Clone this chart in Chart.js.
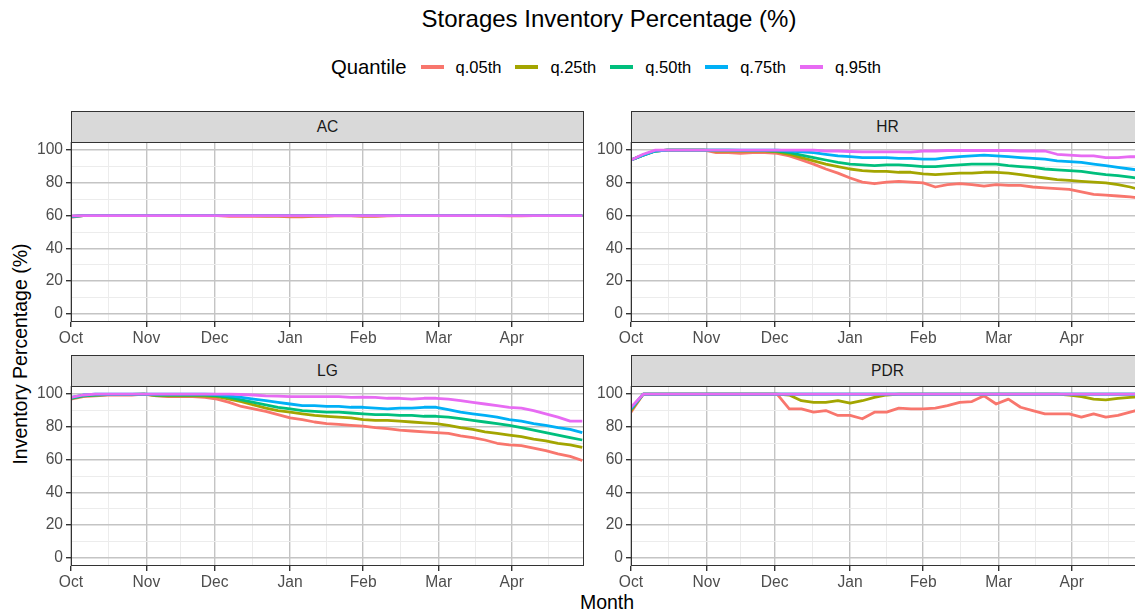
<!DOCTYPE html>
<html>
<head>
<meta charset="utf-8">
<script src="https://cdn.jsdelivr.net/npm/chart.js@4.4.1/dist/chart.umd.min.js"></script>
<style>
  html, body { margin: 0; padding: 0; background: #fff; }
  body { width: 1135px; height: 615px; overflow: hidden; position: relative;
         font-family: "Liberation Sans", Arial, sans-serif; }
  .abs { position: absolute; }
  canvas { position: absolute; }
  .strip { position: absolute; box-sizing: border-box; border: 1px solid #333;
           background: #d9d9d9; color: #1a1a1a; font-size: 15.6px;
           text-align: center; line-height: 30px; height: 32px; width: 513px; }
  #title { left: 0; width: 1218px; top: 5px; text-align: center; font-size: 24px; color: #000; }
  #legend { left: 331px; top: 55px; display: flex; align-items: center; height: 24px; }
  #legend .lt { font-size: 20.3px; color: #000; }
  #legend .key { width: 23px; height: 3.5px; margin-left: 14px; }
  #legend .lab { font-size: 16.5px; color: #000; margin-left: 12px; }
  #xtitle { left: 0; width: 1214px; top: 591px; text-align: center; font-size: 19.5px; }
  #ytitle { left: 20px; top: 354px; font-size: 19.5px; white-space: nowrap;
            transform: translate(-50%, -50%) rotate(-90deg); }
</style>
</head>
<body>
<div id="title" class="abs">Storages Inventory Percentage (%)</div>
<div id="legend" class="abs"></div>
<div id="xtitle" class="abs">Month</div>
<div id="ytitle" class="abs">Inventory Percentage (%)</div>

<div class="strip" style="left:71px; top:111px;">AC</div>
<div class="strip" style="left:631px; top:111px;">HR</div>
<div class="strip" style="left:71px; top:355px;">LG</div>
<div class="strip" style="left:631px; top:355px;">PDR</div>

<canvas id="ac" width="586" height="213" style="left:0px; top:141px;"></canvas>
<canvas id="hr" width="586" height="213" style="left:560px; top:141px;"></canvas>
<canvas id="lg" width="586" height="213" style="left:0px; top:385px;"></canvas>
<canvas id="pdr" width="586" height="213" style="left:560px; top:385px;"></canvas>

<script>
// day offset from the start of the season (every 5 days)
var days = [0, 5, 10, 15, 20, 25, 30, 35, 40, 45,
  50, 55, 60, 65, 70, 75, 80, 85, 90, 95,
  100, 105, 110, 115, 120, 125, 130, 135, 140, 145,
  150, 155, 160, 165, 170, 175, 180, 185, 190, 195,
  200, 205, 210];

var monthLabels = ['Oct', 'Nov', 'Dec', 'Jan', 'Feb', 'Mar', 'Apr'];
var monthDays = [0, 31, 59, 90, 120, 151, 181];
var minorDays = [15.5, 45, 74.5, 105, 135.5, 166, 196];

var quantiles = ['q.05th', 'q.25th', 'q.50th', 'q.75th', 'q.95th'];
var colors = ['#F8766D', '#A3A500', '#00BF7D', '#00B0F6', '#E76BF3'];

// AC
var acQ05 = [59, 60, 60, 60, 60, 60, 60, 60, 60, 60,
  60, 60, 60, 59.5, 59.5, 59.5, 59.5, 59.5, 59.3, 59.3,
  59.5, 59.5, 60, 59.8, 59.5, 59.5, 59.8, 60, 60, 60,
  60, 60, 60, 60, 60, 60, 59.8, 59.8, 60, 60,
  60, 60, 60];
var acQ25 = [59.5, 60, 60, 60, 60, 60, 60, 60, 60, 60,
  60, 60, 60, 60, 60, 60, 59.8, 59.8, 59.8, 59.8,
  59.8, 60, 60, 60, 59.8, 59.8, 60, 60, 60, 60,
  60, 60, 60, 60, 60, 60, 60, 60, 60, 60,
  60, 60, 60];
var acQ50 = [59.5, 60, 60, 60, 60, 60, 60, 60, 60, 60,
  60, 60, 60, 60, 60, 60, 60, 60, 60, 60,
  60, 60, 60, 60, 60, 60, 60, 60, 60, 60,
  60, 60, 60, 60, 60, 60, 60, 60, 60, 60,
  60, 60, 60];
var acQ75 = [59.6, 60, 60, 60, 60, 60, 60, 60, 60, 60,
  60, 60, 60, 60, 60, 60, 60, 60, 60, 60,
  60, 60, 60, 60, 60, 60, 60, 60, 60, 60,
  60, 60, 60, 60, 60, 60, 60, 60, 60, 60,
  60, 60, 60];
var acQ95 = [59.8, 60, 60, 60, 60, 60, 60, 60, 60, 60,
  60, 60, 60, 60, 60, 60, 60, 60, 60, 60,
  60, 60, 60, 60, 60, 60, 60, 60, 60, 60,
  60, 60, 60, 60, 60, 60, 60, 60, 60, 60,
  60, 60, 60];

// HR
var hrQ05 = [94, 97, 99.5, 100, 100, 100, 100, 98.5, 98.5, 98,
  98.5, 98.5, 98, 96.5, 94, 91.5, 88.5, 86, 83, 80.5,
  79.5, 80.5, 81, 80.5, 80, 77.5, 79, 79.5, 79, 78,
  79, 78.5, 78.5, 77.5, 77, 76.5, 76, 74.5, 73, 72.5,
  72, 71.5, 70.5];
var hrQ25 = [94, 97, 99.5, 100, 100, 100, 100, 99.5, 99.5, 99.5,
  99.5, 99.5, 99, 97.5, 95.5, 93.5, 91.5, 90, 88.5, 87.5,
  87, 87, 86.5, 86.5, 85.5, 85, 85.5, 86, 86, 86.5,
  86.5, 86, 85, 84, 83, 82, 81.5, 81, 80.5, 80,
  79, 77.5, 75.5];
var hrQ50 = [94, 97, 99.5, 100, 100, 100, 100, 100, 100, 99.8,
  99.8, 99.8, 99.5, 98.5, 97, 95.5, 94, 92.5, 91.5, 91,
  90.5, 91, 91, 90.5, 90, 90, 90.5, 91, 91.5, 91.5,
  91.5, 90.5, 90, 89.5, 88.5, 88, 87.5, 87, 86, 85,
  84.5, 83.5, 82.5];
var hrQ75 = [94, 97, 99.5, 100, 100, 100, 100, 100, 100, 100,
  100, 100, 100, 99.5, 99, 98.5, 97.5, 96.5, 96, 95.5,
  95.5, 95.5, 95, 95, 94.5, 94.5, 95.5, 96, 96.5, 97,
  96.5, 96, 95.5, 95, 94.5, 93.5, 93, 92.5, 91.5, 90.5,
  89.5, 88.5, 87.5];
var hrQ95 = [94, 97.5, 100, 100, 100, 100, 100, 100, 100, 100,
  100, 100, 100, 100, 100, 100, 99.5, 99.5, 99.2, 99,
  99, 99, 99, 98.8, 99.5, 99.5, 99.8, 99.8, 99.8, 99.8,
  99.8, 99.8, 99.5, 99.5, 99.5, 97.5, 97, 96.5, 96.5, 95.5,
  95.5, 96, 96];

// LG
var lgQ05 = [97, 98.5, 99, 99.5, 99.5, 99.5, 100, 99, 98.5, 98.5,
  98.5, 98, 97, 95, 92.5, 91, 89.5, 87.5, 85.5, 84.5,
  83, 82, 81.5, 81, 80.5, 79.5, 79, 78, 77.5, 77,
  76.5, 76, 74.5, 73.5, 72, 70, 69, 68.5, 67, 65.5,
  63.5, 62, 59.5];
var lgQ25 = [97.5, 99, 99.5, 99.8, 99.8, 99.8, 100, 99.2, 99, 99,
  99, 98.8, 98.5, 97, 95.5, 93.5, 91.5, 90, 89, 88,
  87, 86.5, 86, 85.5, 84.5, 84, 84, 83.5, 83, 82.5,
  82, 81, 79.5, 78.5, 77, 76, 75, 74, 72.5, 71.5,
  70, 69, 67.5];
var lgQ50 = [97.5, 99, 99.5, 99.8, 99.8, 99.8, 100, 99.5, 99.5, 99.5,
  99.5, 99.5, 99, 98, 96.5, 95, 93.5, 92, 91, 90,
  89.5, 89, 89, 88.5, 88, 87.5, 87.5, 87, 87, 86.5,
  86.5, 86, 85, 84, 83, 82, 81, 79.5, 78, 76.5,
  75, 73.5, 72];
var lgQ75 = [98, 99.5, 100, 100, 100, 100, 100, 100, 100, 100,
  100, 100, 99.8, 99, 98, 97, 96, 95, 94, 93,
  93, 92.5, 92.5, 92, 92, 91.5, 91, 91.5, 91.5, 92,
  92, 90.5, 89, 88, 87, 86, 84.5, 83.5, 82, 81,
  79.5, 78.5, 76.5];
var lgQ95 = [98, 99.5, 100, 100, 100, 100, 100, 100, 100, 100,
  100, 100, 100, 100, 99.8, 99.5, 99, 98.8, 98.5, 98.5,
  98.5, 98.5, 98.5, 98, 98.2, 98, 97.5, 97.5, 97, 97.5,
  97.5, 97, 96, 95, 94, 93, 92, 91.5, 90, 88,
  86, 83.5, 83.5];

// PDR
var pdrQ05 = [89, 100, 100, 100, 100, 100, 100, 100, 100, 100,
  100, 100, 100, 91, 91, 89, 90, 87, 87, 85,
  89, 89, 91.5, 91, 91, 91.5, 93, 95, 95.5, 99,
  94, 97, 92, 90, 88, 88, 88, 86, 88, 86,
  87, 89, 91];
var pdrQ25 = [90, 100, 100, 100, 100, 100, 100, 100, 100, 100,
  100, 100, 100, 99.5, 96, 95, 95, 96, 94.5, 96,
  98, 99.5, 100, 100, 100, 100, 100, 100, 100, 100,
  100, 100, 100, 100, 100, 100, 99.5, 98.5, 97, 96.5,
  97.5, 98, 98.5];
var pdrQ50 = [91, 100, 100, 100, 100, 100, 100, 100, 100, 100,
  100, 100, 100, 100, 100, 100, 100, 100, 100, 100,
  100, 100, 100, 100, 100, 100, 100, 100, 100, 100,
  100, 100, 100, 100, 100, 100, 100, 100, 100, 100,
  100, 100, 100];
var pdrQ75 = [91, 100, 100, 100, 100, 100, 100, 100, 100, 100,
  100, 100, 100, 100, 100, 100, 100, 100, 100, 100,
  100, 100, 100, 100, 100, 100, 100, 100, 100, 100,
  100, 100, 100, 100, 100, 100, 100, 100, 100, 100,
  100, 100, 100];
var pdrQ95 = [92, 100, 100, 100, 100, 100, 100, 100, 100, 100,
  100, 100, 100, 100, 100, 100, 100, 100, 100, 100,
  100, 100, 100, 100, 100, 100, 100, 100, 100, 100,
  100, 100, 100, 100, 100, 100, 100, 100, 100, 100,
  100, 100, 100];

// legend (html)
var leg = document.getElementById('legend');
leg.innerHTML = '<span class="lt">Quantile</span>';
quantiles.forEach(function (q, i) {
  leg.innerHTML += '<span class="key" style="background:' + colors[i] + '"></span>' +
    '<span class="lab">' + q + '</span>';
});

var panelBorder = {
  id: 'panelBorder',
  afterDatasetsDraw: function (chart) {
    var a = chart.chartArea, ctx = chart.ctx;
    ctx.save();
    ctx.strokeStyle = '#333333';
    ctx.lineWidth = 1;
    ctx.strokeRect(a.left + 0.5, a.top + 0.5, a.right - a.left - 1, a.bottom - a.top - 1);
    ctx.restore();
  }
};

function isMonth(v) { return monthDays.indexOf(v) >= 0; }

function makePanel(id, series) {
  new Chart(document.getElementById(id), {
    type: 'line',
    data: {
      datasets: series.map(function (vals, i) {
        return {
          label: quantiles[i],
          data: days.map(function (d, j) { return { x: d, y: vals[j] }; }),
          borderColor: colors[i],
          borderWidth: 2.8,
          borderJoinStyle: 'round',
          pointRadius: 0,
          tension: 0,
          fill: false,
          order: 4 - i
        };
      })
    },
    options: {
      responsive: false,
      animation: false,
      devicePixelRatio: 1,
      layout: { autoPadding: false, padding: { top: 1, right: 2, left: 0, bottom: 0 } },
      plugins: { legend: { display: false }, tooltip: { enabled: false } },
      scales: {
        x: {
          type: 'linear', min: 0, max: 210.7,
          afterBuildTicks: function (scale) {
            scale.ticks = monthDays.concat(minorDays).sort(function (a, b) { return a - b; })
              .map(function (v) { return { value: v }; });
          },
          afterFit: function (scale) {
            scale.height = 32;
            scale.paddingLeft = 0; scale.paddingRight = 0;
            scale.paddingTop = 0; scale.paddingBottom = 0;
          },
          border: { display: false },
          grid: {
            color: function (c) { return c.tick && isMonth(c.tick.value) ? '#c4c4c4' : '#ececec'; },
            lineWidth: function (c) { return c.tick && isMonth(c.tick.value) ? 1.4 : 1; },
            tickColor: function (c) { return c.tick && isMonth(c.tick.value) ? '#333333' : 'rgba(0,0,0,0)'; },
            tickLength: 5
          },
          ticks: {
            autoSkip: false, maxRotation: 0, padding: 2,
            color: '#4d4d4d',
            font: { family: '"Liberation Sans", Arial, sans-serif', size: 15.6 },
            callback: function (v) {
              var k = monthDays.indexOf(v);
              return k >= 0 ? monthLabels[k] : '';
            }
          }
        },
        y: {
          type: 'linear', min: -5, max: 105,
          afterBuildTicks: function (scale) {
            scale.ticks = [0, 10, 20, 30, 40, 50, 60, 70, 80, 90, 100]
              .map(function (v) { return { value: v }; });
          },
          afterFit: function (scale) {
            scale.width = 71;
            scale.paddingLeft = 0; scale.paddingRight = 0;
            scale.paddingTop = 0; scale.paddingBottom = 0;
          },
          border: { display: false },
          grid: {
            color: function (c) { return c.tick && c.tick.value % 20 === 0 ? '#c4c4c4' : '#ececec'; },
            lineWidth: function (c) { return c.tick && c.tick.value % 20 === 0 ? 1.4 : 1; },
            tickColor: function (c) { return c.tick && c.tick.value % 20 === 0 ? '#333333' : 'rgba(0,0,0,0)'; },
            tickLength: 5
          },
          ticks: {
            autoSkip: false, padding: 3,
            color: '#4d4d4d',
            font: { family: '"Liberation Sans", Arial, sans-serif', size: 15.6 },
            callback: function (v) { return v % 20 === 0 ? String(v) : ''; }
          }
        }
      }
    },
    plugins: [panelBorder]
  });
}

makePanel('ac', [acQ05, acQ25, acQ50, acQ75, acQ95]);
makePanel('hr', [hrQ05, hrQ25, hrQ50, hrQ75, hrQ95]);
makePanel('lg', [lgQ05, lgQ25, lgQ50, lgQ75, lgQ95]);
makePanel('pdr', [pdrQ05, pdrQ25, pdrQ50, pdrQ75, pdrQ95]);
</script>
</body>
</html>
